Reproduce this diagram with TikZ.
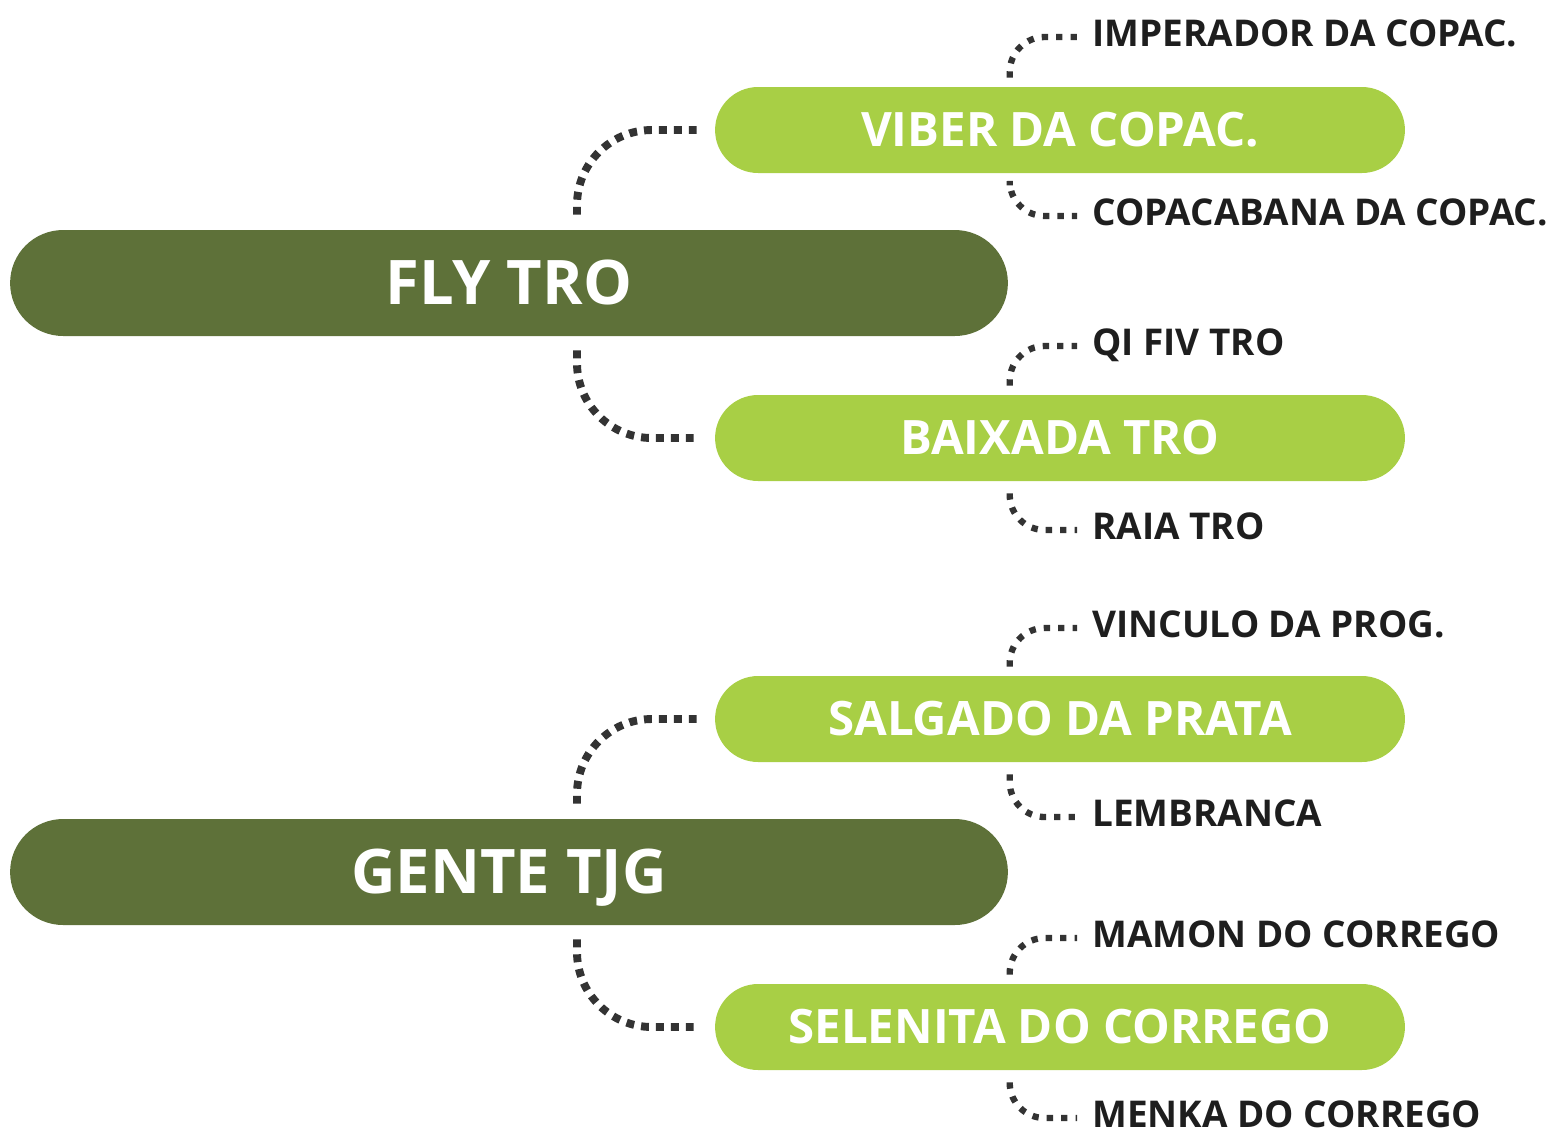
\documentclass[tikz,border=0pt]{standalone}
\usepackage{fontspec}
\setmainfont{Open Sans}
\usetikzlibrary{calc,positioning}
\definecolor{oliva}{HTML}{5E7139}
\definecolor{lima}{HTML}{A8CF45}
\definecolor{tinta}{HTML}{1E1E1E}
\definecolor{ponto}{HTML}{333333}
\tikzset{
  raiz/.style={fill=oliva,text=white,rounded corners=1.06cm,minimum width=19.96cm,
    minimum height=2.12cm,text height=25pt,text depth=0pt,
    font=\bfseries\fontsize{35}{38}\selectfont},
  ramo/.style={fill=lima,text=white,rounded corners=0.86cm,minimum width=13.8cm,
    minimum height=1.72cm,text height=19.3pt,text depth=0pt,
    font=\bfseries\fontsize{27}{30}\selectfont},
  folha/.style={text=tinta,anchor=west,inner sep=0pt,text height=15pt,text depth=0pt,
    font=\bfseries\fontsize{21}{23}\selectfont},
  pontilhado/.style={ponto,line width=4.5pt,dash pattern=on 4.5pt off 4pt,rounded corners=1.5cm},
  pontinho/.style={ponto,line width=3.6pt,dash pattern=on 3.6pt off 4.6pt,rounded corners=0.7cm}
}
\begin{document}
\begin{tikzpicture}[x=0.02cm,y=-0.02cm]
  \useasboundingbox (0,0) rectangle (1552,1134);
  % troncos
  \node[raiz] (fly)   at (509,283) {FLY TRO};
  \node[raiz] (gente) at (509,872) {GENTE TJG};
  % ramos
  \node[ramo] (viber)    at (1060,130)  {VIBER DA COPAC.};
  \node[ramo] (baixada)  at (1060,438)  {BAIXADA TRO};
  \node[ramo] (salgado)  at (1060,719)  {SALGADO DA PRATA};
  \node[ramo] (selenita) at (1060,1027) {SELENITA DO CORREGO};
  % folhas
  \node[folha] (imperador)  at (1092,33)   {IMPERADOR DA COPAC.};
  \node[folha] (copacabana) at (1092,212)  {COPACABANA DA COPAC.};
  \node[folha] (qifiv)      at (1092,342)  {QI FIV TRO};
  \node[folha] (raia)       at (1092,526)  {RAIA TRO};
  \node[folha] (vinculo)    at (1092,624)  {VINCULO DA PROG.};
  \node[folha] (lembranca)  at (1092,813)  {LEMBRANCA};
  \node[folha] (mamon)      at (1092,934)  {MAMON DO CORREGO};
  \node[folha] (menka)      at (1092,1114) {MENKA DO CORREGO};
  % ligacoes dos troncos
  \draw[pontilhado] ($(fly.north)+(68,-15)$) |- ($(viber.west)+(-18,0)$);
  \draw[pontilhado] ($(fly.south)+(68,14)$) |- ($(baixada.west)+(-18,0)$);
  \draw[pontilhado] ($(gente.north)+(68,-15)$) |- ($(salgado.west)+(-18,0)$);
  \draw[pontilhado] ($(gente.south)+(68,14)$) |- ($(selenita.west)+(-18,0)$);
  % ligacoes das folhas
  \foreach \r/\a/\b in {viber/imperador/copacabana,baixada/qifiv/raia,
      salgado/vinculo/lembranca,selenita/mamon/menka}{
    \draw[pontinho] ($(\r.north west)+(295,-9)$) |- ($(\a.west)+(-15,4)$);
    \draw[pontinho] ($(\r.south west)+(295,12)$) |- ($(\b.west)+(-15,4)$);
  }
\end{tikzpicture}
\end{document}
